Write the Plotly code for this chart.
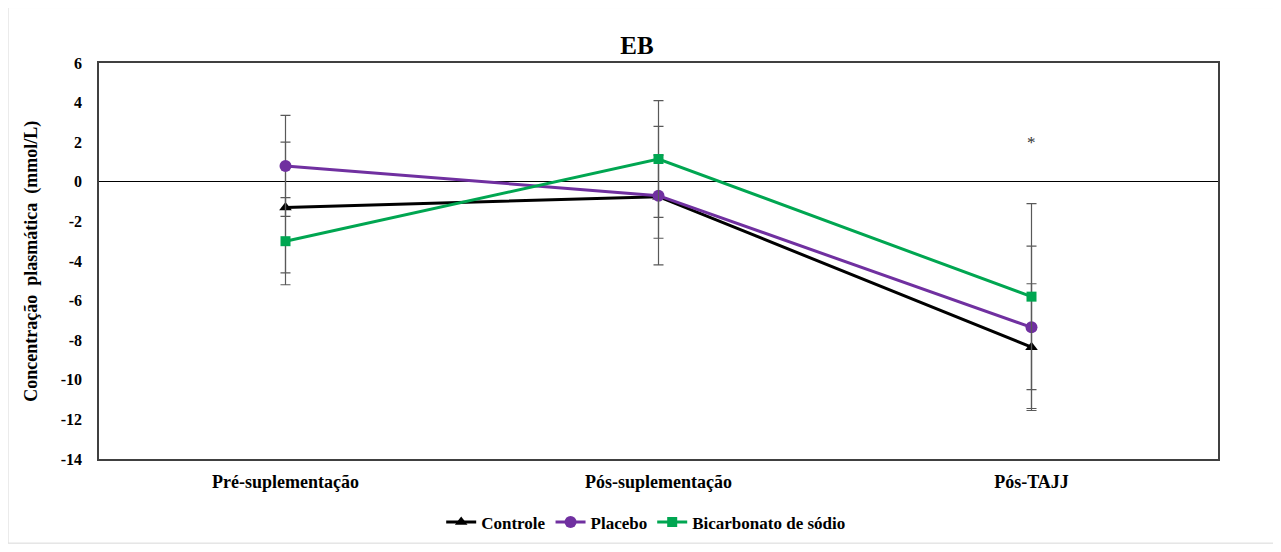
import plotly.graph_objects as go

categories = ["Pré-suplementação", "Pós-suplementação", "Pós-TAJJ"]
controle = [-1.3, -0.75, -8.35]
controle_err = [3.3, 2.1, 3.2]
placebo = [0.8, -0.7, -7.35]
placebo_err = [2.55, 3.5, 4.1]
bicarb = [-3.0, 1.15, -5.8]
bicarb_err = [2.2, 2.95, 4.7]
y_ticks = [6, 4, 2, 0, -2, -4, -6, -8, -10, -12, -14]

FONT = "Liberation Serif"

fig = go.Figure()

series = [
    ("Controle", controle, controle_err, "#000000", "triangle-up", 11),
    ("Placebo", placebo, placebo_err, "#7030A0", "circle", 12),
    ("Bicarbonato de sódio", bicarb, bicarb_err, "#00A651", "square", 10),
]
for name, vals, errs, color, symbol, size in series:
    fig.add_trace(go.Scatter(
        x=categories, y=vals, name="<b>" + name + "</b>", mode="lines+markers",
        line=dict(color=color, width=3),
        marker=dict(symbol=symbol, size=size, color=color),
        error_y=dict(type="data", array=errs, visible=True,
                     color="#595959", thickness=1.2, width=5),
    ))

fig.add_annotation(x=categories[2], y=2, text="*", showarrow=False,
                   font=dict(family=FONT, size=17, color="#333333"))

fig.add_annotation(xref="paper", yref="paper", x=-0.061, y=0.5,
                   xanchor="center", yanchor="middle",
                   text="<b>Concentração  plasmática  (mmol/L)</b>",
                   textangle=-90, showarrow=False,
                   font=dict(family=FONT, size=18, color="#000000"))

# outer chart border
fig.add_shape(type="rect", xref="paper", yref="paper",
              x0=-0.0813, x1=1.0527, y0=-0.2125, y1=1.14,
              line=dict(color="#D9D9D9", width=1), layer="below")

fig.update_layout(
    width=1273, height=544,
    margin=dict(l=91, r=63, t=55, b=89),
    paper_bgcolor="white", plot_bgcolor="white",
    title=dict(text="<b>EB</b>", x=(637 - 8) / 1273, xanchor="center",
               y=1 - 37 / 544, yanchor="middle",
               font=dict(family=FONT, size=25, color="#000000")),
    font=dict(family=FONT, size=16, color="#000000"),
    showlegend=True,
    legend=dict(orientation="h", x=0.489, xanchor="center",
                y=-0.16, yanchor="middle",
                font=dict(family=FONT, size=17, color="#000000"),
                itemwidth=30, tracegroupgap=0),
    xaxis=dict(range=[-0.5, 2.5], showline=True, linecolor="#404040",
               linewidth=1.5, mirror=True, showgrid=False, ticks="",
               tickfont=dict(family=FONT, size=18, color="#000000"),
               tickvals=categories,
               ticktext=["<b>" + c + "</b>" for c in categories],
               ticklabelstandoff=6),
    yaxis=dict(range=[-14, 6], tickvals=y_ticks,
               ticktext=["<b>" + str(v) + "</b>" for v in y_ticks],
               showline=True, linecolor="#404040", linewidth=1.5,
               mirror=True, showgrid=False, ticks="",
               zeroline=True, zerolinecolor="#000000", zerolinewidth=1.2,
               tickfont=dict(family=FONT, size=16, color="#000000"),
               ticklabelstandoff=12),
)

fig.write_html("out.html")
